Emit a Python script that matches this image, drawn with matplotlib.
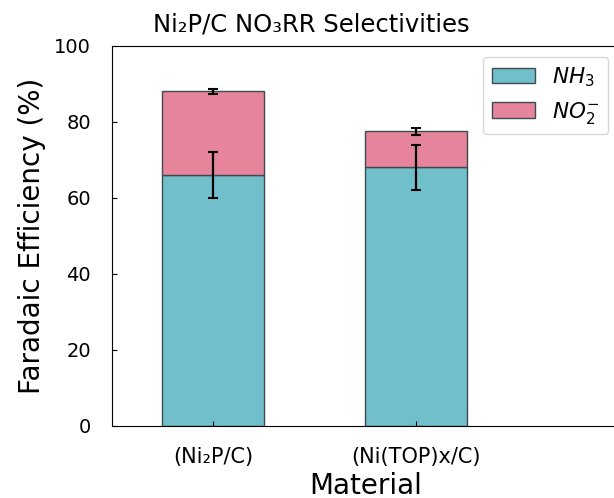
import numpy as np
import matplotlib.pyplot as plt

materials = ["(Ni₂P/C)", "(Ni(TOP)x/C)"]
nh3 = [66.0, 68.0]
nh3_err = [6.0, 5.9]
no2 = [22.0, 9.5]
no2_err = [0.6, 0.9]

fig = plt.figure(figsize=(6.14, 4.98), dpi=100)
ax = fig.add_axes([0.182, 0.145, 0.826, 0.763])

x = np.arange(len(materials))
w = 0.5
edge = "#3d4c50"
ax.bar(x, nh3, w, color="#72bfcc", edgecolor=edge, linewidth=1, label="$NH_3$")
ax.bar(x, no2, w, bottom=nh3, color="#e5849a", edgecolor=edge, linewidth=1, label="$NO_2^{-}$")

# error bars: NH3 on the lower segment, total at the top of the stack
ax.errorbar(x, nh3, yerr=nh3_err, fmt="none", ecolor="black", elinewidth=1.6, capsize=3.5, capthick=1.5)
tot = np.array(nh3) + np.array(no2)
ax.errorbar(x, tot, yerr=no2_err, fmt="none", ecolor="black", elinewidth=1.6, capsize=3.5, capthick=1.5)

ax.set_xlim(-0.5, 2.0)
ax.set_ylim(0, 100)
ax.set_xticks(x)
ax.set_xticklabels(materials)
ax.set_yticks(np.arange(0, 101, 20))
ax.tick_params(direction="in", labelsize=14)
ax.tick_params(axis="y", pad=15)
ax.tick_params(axis="x", pad=15, labelsize=15)

fig.text(311.5 / 614, 1 - 32 / 498, "Ni₂P/C NO₃RR Selectivities", fontsize=17.5,
         ha="center", va="baseline")
ax.set_xlabel("Material", fontsize=20, labelpad=4)
ax.set_ylabel("Faradaic Efficiency (%)", fontsize=20, labelpad=6)
ax.legend(loc="upper right", fontsize=15.5, handlelength=2.0, handleheight=0.7)

fig.savefig("out.png", dpi=100)
